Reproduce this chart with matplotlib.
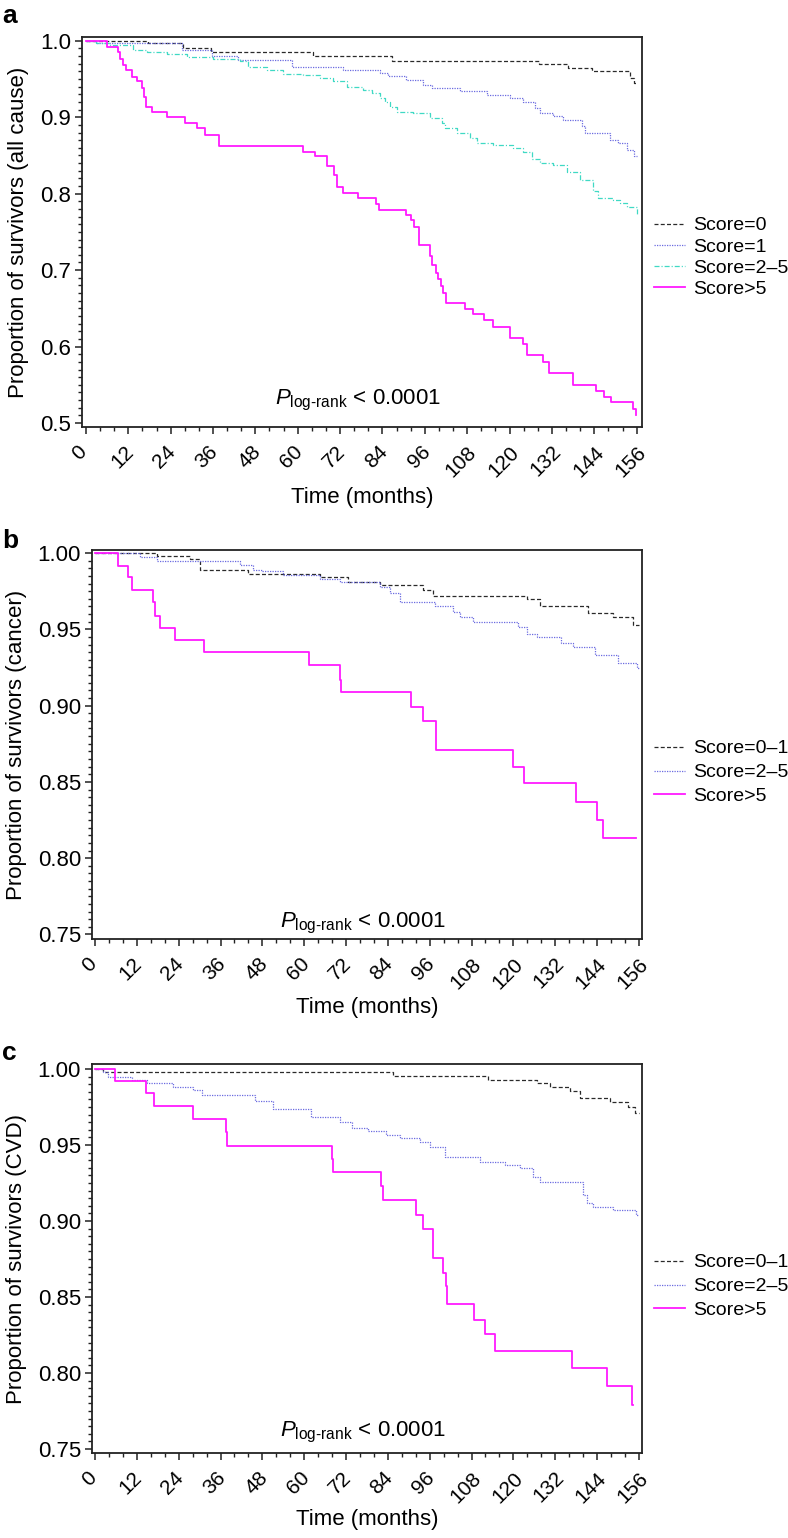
import numpy as np
import matplotlib
matplotlib.use('Agg')
import matplotlib.pyplot as plt
from matplotlib.ticker import MultipleLocator, FormatStrFormatter
from matplotlib.transforms import ScaledTranslation

plt.rcParams['font.family'] = ['Liberation Sans', 'DejaVu Sans']
plt.rcParams['mathtext.fontset'] = 'custom'
plt.rcParams['mathtext.rm'] = 'Liberation Sans'
plt.rcParams['mathtext.it'] = 'Liberation Sans:italic'

# ------------------------------------------------------------
# data (step points: time in months, survival)
# ------------------------------------------------------------

# panel a: all cause
A_T0 = [0, 17.6, 27.4, 35.3, 64.4, 86.6, 128.4, 136.6, 143.3, 154.1, 155.1, 156.0]
A_S0 = [1.0, 0.997, 0.990, 0.985, 0.9795, 0.974, 0.9695, 0.964, 0.960, 0.952, 0.945, 0.945]

A_T1 = [0, 3.0, 27.1, 35.6, 43.1, 58.3, 72.9, 83.3, 85.6, 90.8, 95.6, 97.9, 106.0, 113.5,
        120.1, 123.9, 127.2, 128.6, 132.4, 135.2, 140.4, 141.4, 148.4, 150.8, 153.2, 155.1, 156.0]
A_S1 = [1.0, 0.997, 0.988, 0.9795, 0.975, 0.9664, 0.962, 0.9585, 0.954, 0.949, 0.942, 0.938,
        0.934, 0.929, 0.925, 0.9206, 0.912, 0.905, 0.901, 0.897, 0.888, 0.879, 0.870, 0.866,
        0.857, 0.849, 0.849]

A_T2 = [0, 3.0, 6.8, 13.4, 17.2, 22.9, 28.5, 36.1, 43.6, 46.0, 51.2, 55.9, 61.6, 66.3, 70.1,
        73.9, 78.6, 81.0, 83.3, 84.8, 86.2, 88.0, 92.7, 97.5, 100.8, 101.7, 105.0, 108.8, 110.7,
        115.4, 121.1, 123.9, 126.3, 128.6, 132.4, 136.2, 140.0, 143.7, 145.1, 149.4, 151.3,
        153.2, 156.0]
A_S2 = [1.0, 0.997, 0.994, 0.988, 0.985, 0.983, 0.979, 0.976, 0.974, 0.9664, 0.962, 0.957,
        0.955, 0.9515, 0.947, 0.940, 0.936, 0.932, 0.925, 0.920, 0.914, 0.9075, 0.905, 0.899,
        0.893, 0.886, 0.879, 0.873, 0.866, 0.864, 0.860, 0.855, 0.846, 0.840, 0.838, 0.829,
        0.818, 0.803, 0.794, 0.792, 0.788, 0.783, 0.774]

A_T3 = [0, 6.0, 9.2, 9.8, 10.6, 11.3, 13.2, 14.5, 15.8, 16.4, 16.9, 18.6, 23.1, 28.2, 31.4,
        33.7, 37.7, 61.6, 64.9, 68.4, 70.3, 71.0, 72.9, 77.1, 82.3, 83.0, 90.8, 92.2, 93.0,
        94.4, 97.5, 98.1, 99.2, 99.8, 100.6, 101.2, 102.0, 107.4, 109.5, 112.7, 115.2, 120.1,
        123.9, 124.8, 129.4, 131.2, 138.0, 144.5, 146.6, 148.6, 155.0, 155.7, 155.9]
A_S3 = [1.0, 0.9925, 0.985, 0.976, 0.969, 0.962, 0.953, 0.947, 0.938, 0.927, 0.914, 0.907,
        0.900, 0.893, 0.886, 0.877, 0.863, 0.855, 0.849, 0.836, 0.825, 0.809, 0.801, 0.794,
        0.787, 0.779, 0.772, 0.766, 0.756, 0.733, 0.718, 0.707, 0.696, 0.688, 0.679, 0.670,
        0.657, 0.649, 0.642, 0.635, 0.626, 0.611, 0.603, 0.589, 0.580, 0.565, 0.550, 0.542,
        0.534, 0.527, 0.519, 0.510, 0.510]

# panel b: cancer
B_T0 = [0, 17.7, 27.2, 30.1, 44.0, 64.5, 72.7, 81.7, 94.2, 97.0, 123.8, 127.6, 141.5, 148.6,
        154.4, 156.0]
B_S0 = [1.0, 0.998, 0.996, 0.989, 0.986, 0.984, 0.981, 0.979, 0.9758, 0.9718, 0.9697, 0.965,
        0.9605, 0.958, 0.953, 0.953]

B_T1 = [0, 12.9, 17.7, 41.6, 45.4, 47.8, 54.0, 64.5, 70.3, 81.7, 84.6, 87.5, 97.5, 102.8,
        104.7, 108.5, 121.4, 123.8, 126.7, 133.8, 137.2, 143.4, 150.1, 155.4, 156.0]
B_S1 = [1.0, 0.9976, 0.9948, 0.992, 0.989, 0.988, 0.9856, 0.983, 0.981, 0.978, 0.9736, 0.968,
        0.965, 0.9615, 0.958, 0.955, 0.9517, 0.947, 0.945, 0.941, 0.9386, 0.933, 0.928, 0.9245,
        0.9245]

B_T2 = [0, 6.7, 9.6, 10.5, 16.5, 17.2, 18.6, 22.9, 31.3, 61.5, 70.3, 70.7, 90.6, 94.0, 97.8,
        120.0, 123.1, 137.9, 143.9, 145.8, 155.1]
B_S2 = [1.0, 0.9917, 0.984, 0.976, 0.968, 0.959, 0.951, 0.943, 0.935, 0.9266, 0.917, 0.909,
        0.8993, 0.890, 0.871, 0.860, 0.849, 0.837, 0.825, 0.813, 0.813]

# panel c: CVD
C_T0 = [0, 2.4, 85.6, 112.8, 126.7, 130.5, 136.2, 139.1, 147.7, 152.9, 154.9, 156.0]
C_S0 = [1.0, 0.998, 0.9954, 0.9928, 0.9906, 0.988, 0.9857, 0.9807, 0.9785, 0.975, 0.971, 0.971]

C_T1 = [0, 2.4, 3.8, 10.5, 14.8, 22.5, 28.2, 30.6, 45.9, 51.1, 62.1, 70.3, 73.6, 78.4, 83.6,
        87.5, 93.2, 96.1, 100.4, 110.4, 117.6, 121.9, 125.7, 127.6, 140.0, 141.0, 142.9, 148.6,
        155.3, 156.0]
C_S1 = [1.0, 0.998, 0.995, 0.9928, 0.9906, 0.988, 0.986, 0.9829, 0.979, 0.9737, 0.9686, 0.9653,
        0.9614, 0.959, 0.9565, 0.9544, 0.952, 0.949, 0.942, 0.939, 0.9368, 0.9347, 0.929, 0.926,
        0.917, 0.912, 0.909, 0.907, 0.904, 0.904]

C_T2 = [0, 5.7, 14.5, 16.9, 28.2, 37.5, 37.9, 68.1, 68.3, 81.9, 82.5, 92.0, 94.2, 97.0, 99.9,
        100.7, 101.1, 108.7, 111.8, 114.7, 136.7, 147.0, 154.1, 154.2]
C_S2 = [1.0, 0.992, 0.984, 0.9757, 0.967, 0.9588, 0.9496, 0.9406, 0.932, 0.923, 0.914, 0.904,
        0.895, 0.8755, 0.8655, 0.857, 0.8454, 0.835, 0.8255, 0.8147, 0.8035, 0.7916, 0.779, 0.779]

LAB_A = ['Score=0', 'Score=1', 'Score=2\u20135', 'Score>5']
LAB_BC = ['Score=0\u20131', 'Score=2\u20135', 'Score>5']
X_TICKS = list(range(0, 157, 12))

# ------------------------------------------------------------
# styles
# ------------------------------------------------------------
BLACK = dict(color='#2a2a2a', lw=0.9, dashes=(3.2, 1.8))
BLUE = dict(color='#6b6be0', lw=0.9, dashes=(1.0, 1.0))
CYAN = dict(color='#3fd9c4', lw=0.9, dashes=(4.0, 1.6, 0.9, 1.6))
MAG = dict(color='#ff1aff', lw=1.3)

W, H = 788, 1538
fig = plt.figure(figsize=(W / 100, H / 100), dpi=100)


def px_axes(left, top, right, bottom):
    return fig.add_axes([left / W, 1 - bottom / H, (right - left) / W, (bottom - top) / H])


def style_axes(ax, ylab, yfmt, ymaj, ymin, xlab_y, ylab_x):
    for s in ax.spines.values():
        s.set_linewidth(1.3)
        s.set_color('#222222')
    ax.set_xticks(X_TICKS)
    ax.xaxis.set_minor_locator(MultipleLocator(4))
    ax.yaxis.set_major_locator(MultipleLocator(ymaj))
    ax.yaxis.set_minor_locator(MultipleLocator(ymin))
    ax.yaxis.set_major_formatter(FormatStrFormatter(yfmt))
    ax.tick_params(which='major', direction='out', length=5, width=1.1, color='#222222')
    ax.tick_params(which='minor', direction='out', length=2.8, width=1.0, color='#222222')
    ax.tick_params(axis='y', labelsize=16, pad=3)
    ax.tick_params(axis='x', labelsize=15, pad=6)
    for lbl in ax.get_xticklabels():
        lbl.set_rotation(45)
        lbl.set_ha('center')
        lbl.set_va('top')
        lbl.set_transform(lbl.get_transform() + ScaledTranslation(-6 / 100, 0, fig.dpi_scale_trans))
    ax.set_xlabel('Time (months)', fontsize=16)
    ax.xaxis.label.set_va('center')
    ax.xaxis.set_label_coords(0.5, xlab_y)
    ax.set_ylabel(ylab, fontsize=16)
    ax.yaxis.label.set_va('center')
    ax.yaxis.set_label_coords(ylab_x, 0.5)


def plog(ax, y):
    ax.text(77, y, r'$\mathit{P}_{\mathrm{log}\text{-}\mathrm{rank}}$ < 0.0001',
            ha='center', va='baseline', fontsize=16)


def legend(ax, yc, spacing):
    ax.legend(loc='center left', bbox_to_anchor=(654 / W, 1 - yc / H),
              bbox_transform=fig.transFigure, frameon=False, fontsize=14,
              handlelength=1.6, handletextpad=0.4, labelspacing=spacing,
              borderpad=0, borderaxespad=0)


# ---------------- panel a ----------------
ax = px_axes(82, 37, 642, 427)
ax.step(A_T0, A_S0, where='post', label=LAB_A[0], **BLACK)
ax.step(A_T1, A_S1, where='post', label=LAB_A[1], **BLUE)
ax.step(A_T2, A_S2, where='post', label=LAB_A[2], **CYAN)
ax.step(A_T3, A_S3, where='post', label=LAB_A[3], **MAG)
ax.set_xlim(-1.1, 157.5)
ax.set_ylim(0.4948, 1.005)
style_axes(ax, 'Proportion of survivors (all cause)', '%.1f', 0.1, 0.01, -0.182, -0.114)
plog(ax, 0.524)
legend(ax, 257.5, 0.19)
fig.text(2 / W, 1 - 23 / H, 'a', fontsize=19, fontweight='bold', ha='left', va='baseline')

# ---------------- panel b ----------------
ax = px_axes(92, 550, 642, 939)
ax.step(B_T0, B_S0, where='post', label=LAB_BC[0], **BLACK)
ax.step(B_T1, B_S1, where='post', label=LAB_BC[1], **BLUE)
ax.step(B_T2, B_S2, where='post', label=LAB_BC[2], **MAG)
ax.set_xlim(-0.86, 156.9)
ax.set_ylim(0.747, 1.002)
style_axes(ax, 'Proportion of survivors (cancer)', '%.2f', 0.05, 0.005, -0.175, -0.138)
plog(ax, 0.7543)
legend(ax, 772.5, 0.32)
fig.text(2 / W, 1 - 548 / H, 'b', fontsize=19, fontweight='bold', ha='left', va='baseline')

# ---------------- panel c ----------------
ax = px_axes(92, 1064, 642, 1453)
ax.step(C_T0, C_S0, where='post', label=LAB_BC[0], **BLACK)
ax.step(C_T1, C_S1, where='post', label=LAB_BC[1], **BLUE)
ax.step(C_T2, C_S2, where='post', label=LAB_BC[2], **MAG)
ax.set_xlim(-0.86, 156.9)
ax.set_ylim(0.7474, 1.0033)
style_axes(ax, 'Proportion of survivors (CVD)', '%.2f', 0.05, 0.005, -0.172, -0.138)
plog(ax, 0.758)
legend(ax, 1286.5, 0.32)
fig.text(2 / W, 1 - 1060 / H, 'c', fontsize=19, fontweight='bold', ha='left', va='baseline')

fig.savefig('out.png', dpi=100, facecolor='white')
